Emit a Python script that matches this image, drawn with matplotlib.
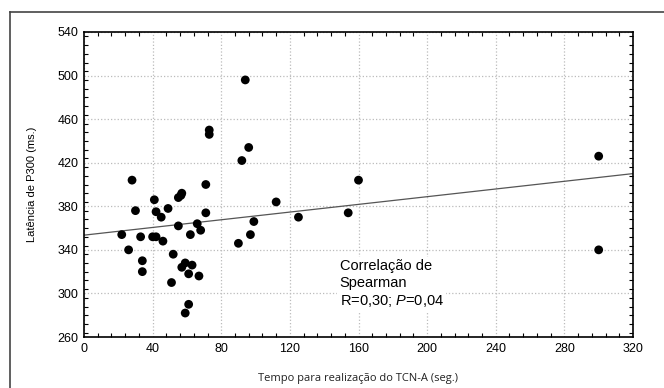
import matplotlib.pyplot as plt
from matplotlib.lines import Line2D
from matplotlib.ticker import MultipleLocator

# tempo (seg.) x latencia P300 (ms.)
tempo = [22, 26, 28, 30, 33, 34, 34, 40, 41, 42, 42, 45, 46, 49, 51, 52,
         55, 55, 56.5, 57, 57, 59, 59, 61, 61, 62, 63, 66, 67, 68, 71, 71,
         73, 73, 90, 92, 94, 96, 97, 99, 112, 125, 154, 160, 300, 300]
latencia = [354, 340, 404, 376, 352, 330, 320, 352, 386, 375, 352, 370, 348, 378, 310, 336,
            388, 362, 390, 392, 324, 328, 282, 318, 290, 354, 326, 364, 316, 358, 400, 374,
            450, 446, 346, 422, 496, 434, 354, 366, 384, 370, 374, 404, 426, 340]

# reta de tendencia
reta_x = [0, 320]
reta_y = [353.5, 410]

xticks = [0, 40, 80, 120, 160, 200, 240, 280, 320]
yticks = [260, 300, 340, 380, 420, 460, 500, 540]

plt.rcParams['font.family'] = ['Liberation Sans', 'DejaVu Sans']
plt.rcParams['mathtext.fontset'] = 'custom'
plt.rcParams['mathtext.rm'] = 'Liberation Sans'
plt.rcParams['mathtext.it'] = 'Liberation Sans:italic'

fig = plt.figure(figsize=(6.64, 3.88), dpi=100)
ax = fig.add_axes([84 / 664, 1 - 337 / 388, 549 / 664, 305 / 388])

ax.plot(reta_x, reta_y, color='#555555', lw=0.9, zorder=2)
ax.scatter(tempo, latencia, s=40, color='black', edgecolors='none', zorder=3)

ax.set_xlim(0, 320)
ax.set_ylim(260, 540)
ax.set_xticks(xticks)
ax.set_yticks(yticks)
ax.xaxis.set_minor_locator(MultipleLocator(8))
ax.yaxis.set_minor_locator(MultipleLocator(8))
ax.tick_params(which='both', direction='in', top=True, right=True, labelsize=9,
               color='black', width=0.8)
ax.tick_params(which='major', length=0, pad=4)
ax.tick_params(which='minor', length=3)
ax.grid(True, which='major', color='#bbbbbb', ls=':', lw=0.9)
for s in ax.spines.values():
    s.set_linewidth(1.2)

ax.set_xlabel('Tempo para realização do TCN-A (seg.)', fontsize=8, family='Open Sans',
              labelpad=13, color='#222222')
ax.set_ylabel('Latência de P300 (ms.)', fontsize=8, labelpad=15)

ax.text(149, 332, 'Correlação de\nSpearman\nR=0,30; $\\mathit{P}$=0,04', fontsize=10.5,
        va='top', ha='left', linespacing=1.3, zorder=4,
        bbox=dict(facecolor='white', edgecolor='none', pad=2))

# moldura externa (so topo e esquerda visiveis)
fig.add_artist(Line2D([10 / 664, 1], [1 - 12 / 388, 1 - 12 / 388], color='#444444', lw=1.2))
fig.add_artist(Line2D([10 / 664, 10 / 664], [0, 1 - 12 / 388], color='#444444', lw=1.2))

fig.savefig('out.png', dpi=100)
